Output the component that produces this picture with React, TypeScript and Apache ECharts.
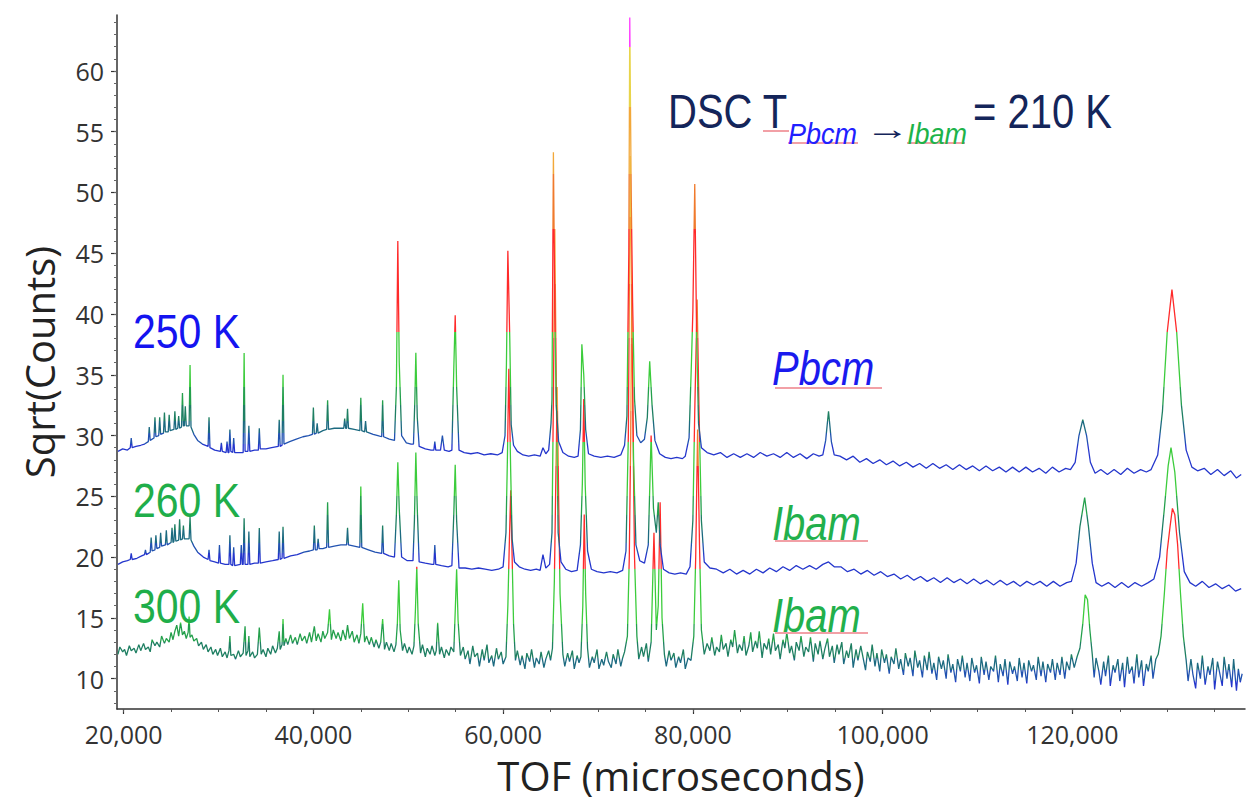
import React, { useEffect, useRef } from "react";
import * as echarts from "echarts";

// TOF in thousands of microseconds, value = sqrt(counts) (with vertical offsets as plotted)
const tof250: [number, number][] = [
  [19.4,28.7],[19.9,28.9],[20.4,28.8],[20.7,29.0],[20.8,29.8],[20.9,29.0],[21.3,29.1],[21.8,29.2],[22.2,29.3],[22.6,29.5],[22.7,30.7],[22.8,29.6],[23.2,29.8],[23.3,31.5],[23.4,29.9],[23.7,30.0],[23.8,31.5],[23.9,30.1],[24.2,30.2],[24.3,31.9],[24.4,30.3],[24.7,30.3],[24.8,31.7],[24.9,30.4],[25.3,30.5],[25.4,32.0],[25.5,30.5],[25.7,30.6],[25.8,31.6],[25.9,30.6],[26.1,30.7],[26.2,33.5],[26.3,30.8],[26.4,30.8],[26.5,32.4],[26.6,30.8],[26.9,30.8],[27.0,35.8],[27.1,30.7],[27.4,30.1],[27.8,29.6],[28.3,29.3],[28.9,29.1],[29.0,31.5],[29.1,29.0],[29.6,28.8],[30.2,28.7],[30.3,29.4],[30.4,28.7],[30.8,28.6],[30.9,29.5],[31.0,28.6],[31.1,28.6],[31.2,30.5],[31.3,28.7],[31.5,28.6],[31.6,29.8],[31.7,28.6],[32.2,28.6],[32.6,28.6],[32.7,36.8],[32.8,28.7],[33.1,28.7],[33.2,30.8],[33.3,28.7],[33.8,28.8],[34.2,28.8],[34.3,30.6],[34.4,28.9],[35.0,28.9],[35.6,29.0],[36.3,29.1],[36.4,31.3],[36.5,29.1],[36.7,29.2],[36.8,35.0],[36.9,29.3],[37.5,29.5],[38.2,29.7],[38.9,29.9],[39.5,30.0],[39.9,30.1],[40.0,32.3],[40.1,30.1],[40.3,30.2],[40.4,31.0],[40.5,30.2],[41.0,30.4],[41.4,30.5],[41.5,32.9],[41.6,30.5],[42.2,30.6],[42.8,30.6],[43.2,30.6],[43.3,31.4],[43.4,30.6],[43.5,30.6],[43.6,32.2],[43.7,30.6],[44.3,30.5],[44.9,30.4],[45.0,33.1],[45.1,30.4],[45.4,30.3],[45.5,31.2],[45.6,30.3],[46.3,30.1],[46.8,30.0],[47.2,29.9],[47.3,32.9],[47.4,29.9],[48.0,29.7],[48.55,29.6],[48.75,34.0],[48.9,46.0],[49.05,36.0],[49.3,30.0],[49.8,29.4],[50.3,29.3],[50.55,29.3],[50.7,33.0],[50.8,36.8],[50.95,31.5],[51.15,29.1],[51.8,28.9],[52.4,28.8],[52.7,28.8],[52.8,29.5],[52.9,28.8],[53.4,28.8],[53.6,30.0],[53.8,28.8],[54.3,28.7],[54.6,28.8],[54.8,35.5],[54.95,39.9],[55.1,34.0],[55.35,28.8],[55.9,28.6],[56.6,28.5],[57.3,28.6],[58.0,28.4],[58.7,28.5],[59.4,28.4],[59.9,28.6],[60.2,30.0],[60.35,35.9],[60.5,45.2],[60.7,38.0],[60.85,30.9],[61.1,29.2],[61.5,28.7],[62.1,28.4],[62.7,28.3],[63.3,28.4],[63.9,28.3],[64.2,29.0],[64.5,28.5],[64.8,28.8],[65.05,31.0],[65.15,33.0],[65.3,53.3],[65.45,40.0],[65.6,32.5],[65.85,29.5],[66.3,28.6],[66.9,28.3],[67.5,28.2],[67.9,28.3],[68.15,30.5],[68.3,37.5],[68.5,35.0],[68.7,30.5],[69.0,28.5],[69.6,28.3],[70.3,28.2],[71.0,28.3],[71.7,28.2],[72.4,28.4],[72.8,29.2],[73.05,31.6],[73.25,45.0],[73.35,64.4],[73.5,50.0],[73.65,40.9],[73.85,33.0],[74.1,30.0],[74.5,29.4],[74.9,29.7],[75.2,31.5],[75.45,36.1],[75.7,32.5],[76.0,29.6],[76.5,28.5],[77.1,28.2],[77.7,28.1],[78.3,28.2],[78.9,28.1],[79.2,28.3],[79.6,29.8],[79.85,36.0],[80.0,40.2],[80.2,50.7],[80.4,38.0],[80.6,31.0],[80.9,29.0],[81.5,28.6],[82.2,28.4],[82.9,28.6],[83.6,28.2],[84.3,28.5],[85.0,28.2],[85.7,28.5],[86.4,28.2],[87.1,28.6],[87.8,28.3],[88.5,28.5],[89.2,28.2],[89.9,28.6],[90.6,28.2],[91.3,28.5],[92.0,28.1],[92.7,28.5],[93.3,28.3],[93.7,28.4],[94.0,29.6],[94.3,32.0],[94.6,29.5],[94.9,28.4],[95.5,28.3],[96.2,28.0],[96.9,28.3],[97.6,27.8],[98.3,28.1],[99.0,27.7],[99.7,28.0],[100.4,27.6],[101.1,27.9],[101.8,27.5],[102.5,27.8],[103.2,27.4],[103.9,27.7],[104.6,27.3],[105.3,27.7],[106.0,27.3],[106.7,27.6],[107.4,27.2],[108.1,27.6],[108.8,27.2],[109.5,27.5],[110.2,27.1],[110.9,27.5],[111.6,27.1],[112.3,27.4],[113.0,27.0],[113.7,27.4],[114.4,27.0],[115.1,27.4],[115.8,27.0],[116.5,27.3],[117.2,26.9],[117.9,27.4],[118.6,27.0],[119.3,27.3],[119.8,27.2],[120.3,27.8],[120.7,30.0],[121.1,31.3],[121.5,30.0],[121.9,27.8],[122.4,26.9],[123.0,27.2],[123.7,26.8],[124.4,27.2],[125.1,26.8],[125.8,27.3],[126.5,26.9],[127.2,27.2],[127.8,27.0],[128.3,27.2],[129.0,28.4],[129.5,32.0],[130.0,38.5],[130.5,42.0],[131.0,38.5],[131.5,32.5],[132.0,28.8],[132.6,27.4],[133.2,27.1],[133.9,27.3],[134.6,26.8],[135.3,27.2],[136.0,26.7],[136.7,27.1],[137.3,26.5],[137.8,26.8]
];

const tof260: [number, number][] = [
  [19.4,19.4],[19.9,19.6],[20.4,19.7],[20.7,19.8],[20.8,20.3],[20.9,19.8],[21.4,19.9],[21.9,20.1],[22.2,20.2],[22.3,20.6],[22.4,20.2],[22.8,20.4],[22.9,21.6],[23.0,20.5],[23.3,20.6],[23.4,21.8],[23.5,20.7],[23.8,20.8],[23.9,22.0],[24.0,20.9],[24.4,21.0],[24.5,22.2],[24.6,21.0],[25.0,21.2],[25.1,22.4],[25.2,21.2],[25.3,21.3],[25.4,22.7],[25.5,21.3],[25.8,21.4],[25.9,23.1],[26.0,21.4],[26.2,21.5],[26.3,22.6],[26.4,21.5],[26.9,21.5],[27.0,23.3],[27.1,21.4],[27.4,20.9],[27.8,20.4],[28.4,20.0],[28.9,19.8],[29.0,20.6],[29.1,19.7],[29.6,19.6],[30.0,19.5],[30.1,21.0],[30.2,19.5],[30.7,19.4],[31.1,19.4],[31.2,21.8],[31.3,19.4],[31.5,19.3],[31.6,20.8],[31.7,19.3],[32.3,19.4],[32.4,21.0],[32.5,19.4],[32.6,19.4],[32.7,23.2],[32.8,19.4],[33.1,19.4],[33.2,22.1],[33.3,19.4],[33.8,19.5],[34.2,19.5],[34.3,22.4],[34.4,19.5],[35.0,19.6],[35.7,19.7],[36.3,19.8],[36.4,22.1],[36.5,19.8],[36.7,19.9],[36.8,22.5],[36.9,19.9],[37.6,20.1],[38.3,20.2],[39.0,20.4],[39.6,20.5],[40.0,20.6],[40.1,22.6],[40.2,20.6],[40.4,20.6],[40.5,21.5],[40.6,20.7],[41.0,20.7],[41.4,20.8],[41.5,24.5],[41.6,20.8],[42.2,20.9],[42.9,21.0],[43.5,21.0],[43.6,22.4],[43.7,21.0],[44.3,20.9],[44.9,20.8],[45.0,25.8],[45.1,20.8],[45.8,20.6],[46.5,20.4],[47.2,20.3],[47.3,22.6],[47.4,20.3],[48.0,20.1],[48.55,20.0],[48.75,23.5],[48.9,27.8],[49.05,24.0],[49.3,20.0],[49.9,19.7],[50.5,19.7],[50.65,23.0],[50.8,28.6],[50.95,24.0],[51.15,19.6],[51.8,19.5],[52.5,19.4],[52.7,19.4],[52.8,21.0],[52.9,19.4],[53.5,19.3],[54.2,19.2],[54.6,19.3],[54.8,23.5],[54.95,27.6],[55.1,23.0],[55.35,19.1],[56.0,19.1],[56.7,19.0],[57.4,19.1],[58.1,19.0],[58.8,18.9],[59.5,19.0],[60.0,19.2],[60.3,22.0],[60.45,28.0],[60.6,35.5],[60.8,27.0],[60.95,21.5],[61.2,19.6],[61.7,19.2],[62.3,19.0],[62.9,18.9],[63.5,19.0],[63.9,18.9],[64.2,20.2],[64.5,19.1],[64.9,19.4],[65.15,22.0],[65.3,33.0],[65.45,47.0],[65.6,34.0],[65.8,22.0],[66.1,19.6],[66.6,19.0],[67.2,18.8],[67.8,18.9],[68.15,21.0],[68.35,26.0],[68.5,33.0],[68.65,26.0],[68.9,20.5],[69.3,19.0],[69.9,18.8],[70.6,18.7],[71.3,18.8],[72.0,18.7],[72.6,18.9],[72.95,20.5],[73.2,30.0],[73.4,53.0],[73.55,40.0],[73.75,28.0],[74.0,21.0],[74.4,19.7],[74.9,19.5],[75.3,21.0],[75.6,30.0],[75.85,24.0],[76.15,22.0],[76.35,24.5],[76.55,21.0],[76.9,19.0],[77.5,18.7],[78.1,18.6],[78.7,18.7],[79.3,18.6],[79.7,19.2],[80.0,23.0],[80.2,32.0],[80.45,41.2],[80.65,32.0],[80.9,23.0],[81.2,19.6],[81.8,19.1],[82.5,19.0],[83.2,18.7],[83.9,19.0],[84.6,18.6],[85.3,18.9],[86.0,18.6],[86.7,19.0],[87.4,18.7],[88.1,19.1],[88.8,18.8],[89.5,19.2],[90.2,18.9],[90.9,19.3],[91.6,19.0],[92.3,19.3],[93.0,19.0],[93.7,19.4],[94.3,19.6],[94.9,19.2],[95.6,19.2],[96.3,18.8],[97.0,19.0],[97.7,18.6],[98.4,18.9],[99.1,18.5],[99.8,18.8],[100.5,18.4],[101.2,18.6],[101.9,18.2],[102.6,18.5],[103.3,18.1],[104.0,18.4],[104.7,18.0],[105.4,18.3],[106.1,17.9],[106.8,18.3],[107.5,17.9],[108.2,18.2],[108.9,17.8],[109.6,18.2],[110.3,17.8],[111.0,18.1],[111.7,17.7],[112.4,18.1],[113.1,17.7],[113.8,18.0],[114.5,17.6],[115.2,18.0],[115.9,17.7],[116.6,18.0],[117.3,17.6],[118.0,18.0],[118.7,17.6],[119.4,17.9],[119.9,18.0],[120.4,19.5],[120.8,22.5],[121.3,24.9],[121.7,22.5],[122.1,19.5],[122.5,17.9],[123.1,17.6],[123.8,17.9],[124.5,17.5],[125.2,17.9],[125.9,17.5],[126.6,17.9],[127.3,17.6],[128.0,17.9],[128.6,18.2],[129.2,20.0],[129.7,24.0],[130.1,27.5],[130.4,29.0],[130.8,27.0],[131.3,22.0],[131.8,18.8],[132.4,17.9],[133.0,17.6],[133.7,18.0],[134.4,17.5],[135.1,17.8],[135.8,17.4],[136.5,17.7],[137.2,17.2],[137.8,17.4]
];

const tof300: [number, number][] = [
  [19.4,12.0],[19.6,12.6],[19.9,12.2],[20.1,12.4],[20.3,11.9],[20.6,12.7],[20.8,12.3],[21.1,12.5],[21.3,12.1],[21.6,12.8],[21.8,12.3],[22.1,12.9],[22.3,12.4],[22.6,12.6],[22.8,12.2],[23.0,13.2],[23.3,12.7],[23.5,13.0],[23.8,12.6],[24.0,13.5],[24.3,12.9],[24.5,13.3],[24.8,13.0],[25.0,13.8],[25.2,13.2],[25.4,13.9],[25.6,14.4],[25.8,13.5],[26.0,14.6],[26.2,13.6],[26.4,13.9],[26.6,13.3],[26.8,13.8],[26.9,15.1],[27.0,13.4],[27.2,13.6],[27.4,13.1],[27.7,13.3],[27.9,12.7],[28.2,13.0],[28.4,12.4],[28.7,12.8],[28.9,12.2],[29.2,12.6],[29.4,12.0],[29.7,12.4],[29.9,11.9],[30.2,12.5],[30.4,11.8],[30.7,12.2],[30.9,11.7],[31.1,12.3],[31.2,13.5],[31.3,11.9],[31.6,12.0],[31.8,11.6],[32.1,12.3],[32.3,11.8],[32.6,12.1],[32.8,14.3],[32.9,11.9],[33.1,12.3],[33.2,13.5],[33.3,11.8],[33.6,12.2],[33.8,11.7],[34.1,12.0],[34.3,14.2],[34.5,12.0],[34.7,12.4],[35.0,11.8],[35.2,12.5],[35.5,12.0],[35.7,12.7],[36.0,12.1],[36.2,12.5],[36.4,13.9],[36.5,12.4],[36.7,12.8],[36.8,14.9],[36.9,12.7],[37.1,13.3],[37.3,12.8],[37.6,13.6],[37.8,12.9],[38.1,13.4],[38.3,12.8],[38.6,13.7],[38.8,13.1],[39.1,13.5],[39.3,12.9],[39.6,13.8],[39.8,13.0],[40.1,14.3],[40.3,13.1],[40.5,13.7],[40.8,13.0],[41.0,13.9],[41.2,13.3],[41.5,13.8],[41.7,15.7],[41.9,13.2],[42.1,14.0],[42.4,13.3],[42.6,13.8],[42.9,13.1],[43.1,14.0],[43.4,13.2],[43.6,14.4],[43.8,13.3],[44.1,13.9],[44.3,13.0],[44.6,13.6],[44.8,12.9],[45.0,13.7],[45.2,16.2],[45.4,13.0],[45.6,13.5],[45.9,12.8],[46.1,13.4],[46.4,12.6],[46.6,13.2],[46.9,12.5],[47.1,13.0],[47.3,14.9],[47.5,12.4],[47.7,13.0],[48.0,12.3],[48.2,12.9],[48.5,12.2],[48.7,12.8],[48.85,14.5],[49.0,18.1],[49.15,14.0],[49.4,12.3],[49.6,12.9],[49.9,12.1],[50.1,12.6],[50.4,12.0],[50.6,12.7],[50.75,15.5],[50.9,19.2],[51.05,14.5],[51.3,12.1],[51.5,12.8],[51.8,11.8],[52.0,12.5],[52.3,12.0],[52.5,12.7],[52.8,11.9],[52.95,12.3],[53.1,14.6],[53.3,12.0],[53.5,12.6],[53.8,11.7],[54.0,12.4],[54.3,11.9],[54.5,12.6],[54.8,12.2],[54.95,15.5],[55.1,19.0],[55.25,14.8],[55.5,11.9],[55.8,12.6],[56.0,11.6],[56.3,12.3],[56.5,11.2],[56.8,12.7],[57.0,11.8],[57.3,12.1],[57.5,11.0],[57.8,12.4],[58.0,11.5],[58.3,12.8],[58.5,11.3],[58.8,11.9],[59.0,11.0],[59.3,12.5],[59.5,11.6],[59.8,12.2],[60.0,11.2],[60.3,11.8],[60.5,16.0],[60.65,21.0],[60.8,25.5],[60.95,20.0],[61.1,14.5],[61.3,11.5],[61.5,12.3],[61.8,11.1],[62.0,11.9],[62.3,10.8],[62.5,12.1],[62.8,11.4],[63.0,12.4],[63.3,10.9],[63.5,11.7],[63.8,11.2],[64.0,12.2],[64.3,10.9],[64.5,11.6],[64.8,12.3],[65.0,11.5],[65.2,12.5],[65.4,18.0],[65.55,26.0],[65.7,34.0],[65.85,25.0],[66.0,17.0],[66.3,12.0],[66.5,11.0],[66.8,12.1],[67.0,11.4],[67.3,12.3],[67.5,10.8],[67.8,11.9],[68.0,11.3],[68.2,11.8],[68.4,16.0],[68.55,23.5],[68.7,17.0],[68.9,12.5],[69.1,10.9],[69.4,11.8],[69.6,11.3],[69.9,12.4],[70.1,10.8],[70.4,11.6],[70.6,11.1],[70.9,12.2],[71.1,11.4],[71.4,10.9],[71.6,12.0],[71.9,11.2],[72.1,12.4],[72.4,11.0],[72.6,11.7],[72.8,12.2],[73.1,13.5],[73.3,20.0],[73.45,30.0],[73.55,41.8],[73.7,30.0],[73.85,20.0],[74.1,13.5],[74.3,11.6],[74.6,12.6],[74.8,11.8],[75.1,12.9],[75.3,11.4],[75.6,13.0],[75.9,22.0],[76.15,14.0],[76.35,16.0],[76.55,24.5],[76.75,15.0],[77.0,12.0],[77.2,11.0],[77.5,12.3],[77.7,11.5],[78.0,12.1],[78.2,10.9],[78.5,11.8],[78.7,11.3],[79.0,12.4],[79.2,10.8],[79.5,11.7],[79.8,11.5],[80.1,13.5],[80.3,20.0],[80.5,30.5],[80.7,21.0],[80.9,14.0],[81.2,12.0],[81.5,12.9],[81.8,12.3],[82.0,13.4],[82.3,11.9],[82.5,12.6],[82.8,12.2],[83.0,13.6],[83.2,12.4],[83.5,12.9],[83.7,11.8],[84.0,13.2],[84.2,12.6],[84.4,14.0],[84.7,12.1],[84.9,12.8],[85.2,12.3],[85.4,13.5],[85.6,11.9],[85.9,12.7],[86.1,13.8],[86.3,12.2],[86.6,13.1],[86.8,12.5],[87.0,13.9],[87.3,11.7],[87.5,12.9],[87.8,12.4],[88.0,13.3],[88.2,12.0],[88.5,13.7],[88.7,12.3],[89.0,12.8],[89.2,11.6],[89.5,13.2],[89.7,12.5],[89.9,13.8],[90.2,12.1],[90.4,12.7],[90.7,11.5],[90.9,13.0],[91.2,12.3],[91.4,13.5],[91.7,11.8],[91.9,12.6],[92.2,12.2],[92.4,13.4],[92.7,11.4],[92.9,12.9],[93.2,12.0],[93.4,13.1],[93.7,11.6],[93.9,12.4],[94.2,13.3],[94.4,11.8],[94.7,12.7],[94.9,11.3],[95.2,12.8],[95.4,12.0],[95.7,13.0],[95.9,11.2],[96.2,12.3],[96.4,11.7],[96.7,12.9],[96.9,10.9],[97.2,12.4],[97.4,11.5],[97.7,12.7],[97.9,11.9],[98.2,10.7],[98.4,12.2],[98.7,11.4],[98.9,12.8],[99.2,11.0],[99.4,12.1],[99.7,10.6],[99.9,12.4],[100.2,11.3],[100.4,12.0],[100.7,10.4],[100.9,11.8],[101.2,11.2],[101.4,12.5],[101.7,10.8],[101.9,11.6],[102.2,10.3],[102.4,12.1],[102.7,11.0],[102.9,11.7],[103.2,10.2],[103.4,12.3],[103.7,10.9],[103.9,11.5],[104.2,10.1],[104.4,11.9],[104.7,10.7],[104.9,12.2],[105.2,10.4],[105.4,11.3],[105.7,9.9],[105.9,11.8],[106.2,10.8],[106.4,11.5],[106.7,10.0],[106.9,12.0],[107.2,10.5],[107.4,11.2],[107.7,9.7],[107.9,11.6],[108.2,10.6],[108.4,11.9],[108.7,10.1],[108.9,11.3],[109.2,9.8],[109.4,11.7],[109.7,10.5],[109.9,11.1],[110.2,9.6],[110.4,11.8],[110.7,10.3],[110.9,11.4],[111.2,9.9],[111.4,11.0],[111.7,10.6],[111.9,11.9],[112.2,9.7],[112.4,11.2],[112.7,10.2],[112.9,11.6],[113.2,9.5],[113.4,11.4],[113.7,10.4],[113.9,11.0],[114.2,9.8],[114.4,11.7],[114.7,10.1],[114.9,11.3],[115.2,9.6],[115.4,11.5],[115.7,10.6],[115.9,11.1],[116.2,9.9],[116.4,11.8],[116.7,10.2],[116.9,11.4],[117.2,9.7],[117.4,11.2],[117.7,10.5],[117.9,11.6],[118.2,9.9],[118.4,11.3],[118.7,10.3],[118.9,11.8],[119.2,10.0],[119.4,11.4],[119.7,10.7],[119.9,12.0],[120.2,10.9],[120.5,11.8],[120.8,12.5],[121.1,14.5],[121.35,16.9],[121.6,16.5],[121.85,14.0],[122.1,12.0],[122.3,10.1],[122.5,11.7],[122.8,10.6],[123.0,9.5],[123.3,11.4],[123.5,10.2],[123.8,11.9],[124.0,9.4],[124.3,11.1],[124.5,10.5],[124.8,11.6],[125.0,9.8],[125.3,11.3],[125.5,9.3],[125.8,11.8],[126.0,10.4],[126.3,11.0],[126.5,9.6],[126.8,12.0],[127.0,10.1],[127.3,11.5],[127.5,9.4],[127.8,11.2],[128.0,10.6],[128.3,11.9],[128.5,10.0],[128.8,11.6],[129.05,12.0],[129.35,13.5],[129.7,17.0],[130.0,20.5],[130.3,22.5],[130.55,24.0],[130.8,23.5],[131.1,21.0],[131.4,17.0],[131.7,13.5],[132.0,11.5],[132.2,9.8],[132.5,11.6],[132.7,10.4],[133.0,9.2],[133.2,11.3],[133.5,10.0],[133.7,11.9],[134.0,9.5],[134.3,11.0],[134.5,10.3],[134.8,11.7],[135.0,9.1],[135.3,11.4],[135.5,10.6],[135.8,9.4],[136.0,11.8],[136.3,10.0],[136.5,11.2],[136.8,9.3],[137.0,11.6],[137.3,9.0],[137.5,10.8],[137.7,9.7],[137.9,10.4]
];

const seriesNames = ["300 K", "260 K", "250 K"];
const xMajorTicks = [20000, 40000, 60000, 80000, 100000, 120000];
const xMinorTicks = [20000, 25000, 30000, 35000, 40000, 45000, 50000, 55000, 60000, 65000, 70000, 75000, 80000, 85000, 90000, 95000, 100000, 105000, 110000, 115000, 120000, 125000, 130000, 135000];
const yMajorTicks = [10, 15, 20, 25, 30, 35, 40, 45, 50, 55, 60];
const yMinorTicks = [8, 9, 10, 11, 12, 13, 14, 15, 16, 17, 18, 19, 20, 21, 22, 23, 24, 25, 26, 27, 28, 29, 30, 31, 32, 33, 34, 35, 36, 37, 38, 39, 40, 41, 42, 43, 44, 45, 46, 47, 48, 49, 50, 51, 52, 53, 54, 55, 56, 57, 58, 59, 60, 61, 62, 63, 64];

// colour bands on the 250 K scale: [upper bound, colour]
const colorBands: [number, string][] = [
  [29.3, "#2436cc"],
  [30.2, "#2152b0"],
  [31.2, "#1c6a80"],
  [32.5, "#1e7f62"],
  [34.0, "#24a04c"],
  [38.5, "#3ccc3c"],
  [47.0, "#ff2a2a"],
  [51.5, "#f07a2c"],
  [57.0, "#f2a83a"],
  [62.0, "#e8d44a"],
  [1000, "#ff3cff"],
];
const bandShift = [19.5, 9, 0];

function pieces(shift: number) {
  const out: any[] = [];
  let prev = -1000;
  colorBands.forEach(([ub, c]) => {
    out.push({ gte: prev - shift, lt: ub - shift, color: c });
    prev = ub;
  });
  return out;
}

const FONT_AX = '"Open Sans", "Noto Sans", sans-serif';
const FONT_AN = '"Liberation Sans", Arial, "DejaVu Sans", sans-serif';

function label(text: string, x: number, y: number, size: number, color: string, italic: boolean, sy: number, sx = 1) {
  return {
    type: "text",
    x,
    y,
    scaleX: sx,
    scaleY: sy,
    silent: true,
    z: 100,
    style: {
      text,
      fill: color,
      fontSize: size,
      fontFamily: FONT_AN,
      fontStyle: italic ? "italic" : "normal",
      align: "left",
      verticalAlign: "top",
    },
  };
}

function squiggle(x1: number, x2: number, y: number) {
  return {
    type: "line",
    silent: true,
    z: 99,
    shape: { x1, y1: y, x2, y2: y },
    style: { stroke: "#f2a0a6", lineWidth: 2 },
  };
}

export default function App() {
  const ref = useRef<HTMLDivElement>(null);
  useEffect(() => {
    document.body.style.margin = "0";
    const chart = echarts.init(ref.current!, null, { renderer: "svg" });
    const datasets = [tof300, tof260, tof250];
    const option: any = {
      animation: false,
      backgroundColor: "#ffffff",
      grid: { left: 117, right: 4, top: 15, bottom: 98 },
      xAxis: [
        {
          type: "value",
          min: 19300,
          max: 138200,
          position: "bottom",
          axisLine: { show: true, onZero: false, lineStyle: { color: "#333", width: 1.5 } },
          axisTick: { show: true, customValues: xMajorTicks, length: 5, lineStyle: { color: "#333", width: 1.2 } },
          axisLabel: {
            customValues: xMajorTicks,
            formatter: (v: number) => v.toLocaleString("en-US"),
            fontSize: 25,
            fontFamily: FONT_AX,
            color: "#333",
            margin: 12,
          },
          splitLine: { show: false },
          name: "TOF (microseconds)",
          nameLocation: "middle",
          nameGap: 46,
          nameTextStyle: { fontSize: 40, fontFamily: FONT_AX, color: "#222" },
        },
        {
          type: "value",
          min: 19300,
          max: 138200,
          position: "bottom",
          axisLine: { show: false },
          axisTick: { show: true, customValues: xMinorTicks, length: 3, lineStyle: { color: "#555", width: 1 } },
          axisLabel: { show: false },
          splitLine: { show: false },
        },
      ],
      yAxis: [
        {
          type: "value",
          min: 7.5,
          max: 64.6,
          position: "left",
          axisLine: { show: true, onZero: false, lineStyle: { color: "#333", width: 1.5 } },
          axisTick: { show: true, customValues: yMajorTicks, length: 6, lineStyle: { color: "#333", width: 1.2 } },
          axisLabel: {
            customValues: yMajorTicks,
            fontSize: 25,
            fontFamily: FONT_AX,
            color: "#333",
            margin: 13,
          },
          splitLine: { show: false },
          name: "Sqrt(Counts)",
          nameLocation: "middle",
          nameGap: 58,
          nameTextStyle: { fontSize: 40, fontFamily: FONT_AX, color: "#222" },
        },
        {
          type: "value",
          min: 7.5,
          max: 64.6,
          position: "left",
          axisLine: { show: false },
          axisTick: { show: true, customValues: yMinorTicks, length: 3, lineStyle: { color: "#666", width: 1 } },
          axisLabel: { show: false },
          splitLine: { show: false },
        },
      ],
      visualMap: datasets.map((_, i) => ({
        type: "piecewise",
        show: false,
        seriesIndex: i,
        dimension: 1,
        pieces: pieces(bandShift[i]),
      })),
      series: datasets.map((d, i) => ({
        name: seriesNames[i],
        type: "line",
        xAxisIndex: 0,
        yAxisIndex: 0,
        showSymbol: false,
        symbol: "none",
        silent: true,
        lineStyle: { width: 1.3 },
        data: d.map(([t, v]) => [t * 1000, v]),
        z: 2 + i,
      })),
      graphic: [
        label("250 K", 133, 307, 41, "#1414f0", false, 1.19),
        label("260 K", 133, 476, 41, "#1fae4a", false, 1.19),
        label("300 K", 133, 582, 41, "#1fae4a", false, 1.19),
        label("Pbcm", 772, 344, 40, "#1a1aee", true, 1.22),
        squiggle(775, 882, 388),
        label("Ibam", 772, 499, 40, "#22b04c", true, 1.22),
        squiggle(775, 868, 541),
        label("Ibam", 772, 591, 40, "#22b04c", true, 1.22),
        squiggle(775, 868, 633),
        label("DSC T", 668, 87, 40, "#14255a", false, 1.22),
        label("Pbcm", 788, 119, 27, "#2020ff", true, 1.1),
        label("\u2192", 865, 113, 30, "#14255a", false, 1.0, 1.5),
        label("Ibam", 907, 119, 27, "#1db34a", true, 1.1),
        label("= 210 K", 973, 87, 40, "#14255a", false, 1.22),
        squiggle(763, 789, 131),
        squiggle(788, 858, 143),
        squiggle(907, 965, 143),
      ],
    };
    chart.setOption(option);
    return () => chart.dispose();
  }, []);
  return <div ref={ref} style={{ width: 1249, height: 807 }} />;
}
